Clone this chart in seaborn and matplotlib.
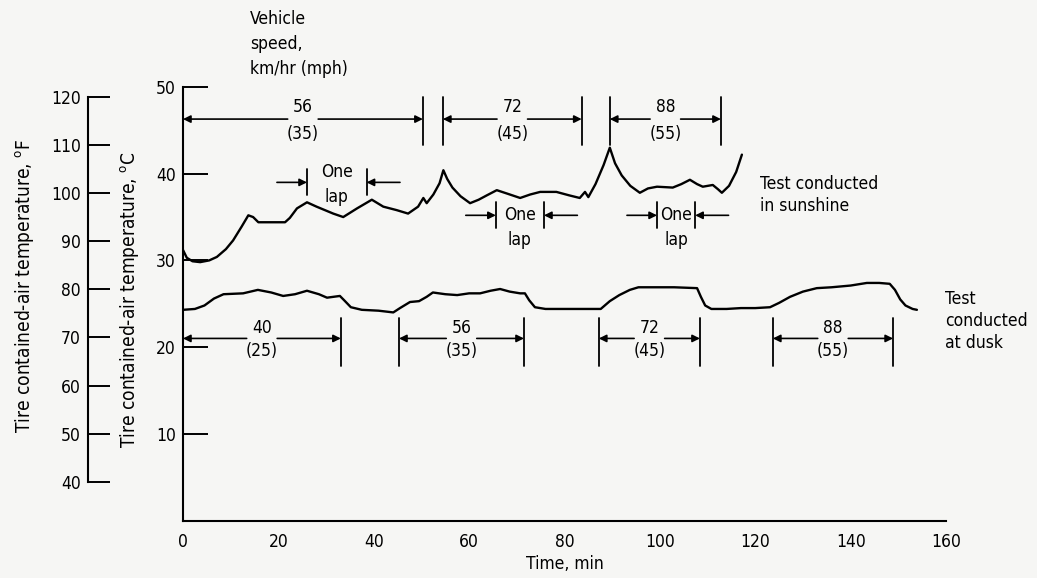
import numpy as np
import pandas as pd
import seaborn as sns
import matplotlib
matplotlib.use("Agg")
import matplotlib.pyplot as plt
from matplotlib import font_manager

# Data (time in min, temperature in deg C)
sun_t = [0, 0.8, 2.0, 3.6, 5.5, 7.1, 9.0, 10.5, 12.3, 13.7, 14.7, 15.8, 18, 21.4,
         22.4, 23.9, 26, 28, 31.5, 33.6, 36.5, 39.6, 42, 44.8, 47.2, 49.3, 50.4,
         51.1, 52.5, 53.8, 54.6, 55.4, 56.5, 58.2, 60.2, 62, 63.7, 65.8, 68, 70.7,
         72.8, 74.9, 78.3, 81, 83.2, 84.3, 85, 86.5, 88.2, 89.5, 90.6, 92, 93.8,
         95.8, 97.5, 99.4, 102.7, 104.5, 106.3, 107.8, 109, 111.1, 112.2, 113,
         114.5, 116, 117.2]
sun_c = [31.2, 30.3, 29.9, 29.8, 30.0, 30.4, 31.3, 32.3, 33.9, 35.2, 35.0, 34.4,
         34.4, 34.4, 34.9, 36.0, 36.7, 36.2, 35.4, 35.0, 36.0, 37.0, 36.2, 35.8,
         35.4, 36.2, 37.2, 36.6, 37.6, 38.9, 40.4, 39.4, 38.4, 37.4, 36.6, 37.0,
         37.5, 38.1, 37.7, 37.2, 37.6, 37.9, 37.9, 37.5, 37.2, 37.9, 37.3, 38.8,
         41.0, 43.0, 41.2, 39.8, 38.6, 37.8, 38.3, 38.5, 38.4, 38.8, 39.3, 38.8,
         38.5, 38.7, 38.2, 37.8, 38.6, 40.2, 42.2]

dusk_t = [0, 2.5, 4.5, 6.5, 8.5, 12.6, 15.7, 18.5, 21, 23.5, 26, 28.5, 30.2, 32.9,
          33.8, 35.2, 37.5, 41, 44.1, 45.5, 47.6, 49.5, 51.1, 52.4, 55, 57.5,
          60, 62.3, 64.5, 66.5, 68.5, 70.7, 71.7, 72.6, 73.8, 76, 80, 84, 87.6,
          89.5, 91.5, 93.7, 95.5, 97.9, 103, 107.8, 108.6, 109.5, 110.8, 114,
          117, 120, 123.1, 125, 127.3, 130, 132.9, 136, 140, 143.4, 146, 148.2,
          149.3, 150.4, 151.5, 153, 153.9]
dusk_c = [24.3, 24.4, 24.8, 25.6, 26.1, 26.2, 26.6, 26.3, 25.9, 26.1, 26.5, 26.1,
          25.7, 25.9, 25.4, 24.6, 24.3, 24.2, 24.0, 24.5, 25.2, 25.3, 25.8, 26.3,
          26.1, 26.0, 26.2, 26.2, 26.5, 26.7, 26.4, 26.2, 26.2, 25.4, 24.6, 24.4,
          24.4, 24.4, 24.4, 25.3, 26.0, 26.6, 26.9, 26.9, 26.9, 26.8, 25.8, 24.8,
          24.4, 24.4, 24.5, 24.5, 24.6, 25.1, 25.8, 26.4, 26.8, 26.9, 27.1, 27.4,
          27.4, 27.3, 26.6, 25.5, 24.8, 24.4, 24.3]

# vehicle speed segments
sun_kmh = ["56", "72", "88"]
sun_mph = ["(35)", "(45)", "(55)"]
sun_start = [0, 54.5, 89.5]
sun_end = [50.3, 83.6, 112.8]

dusk_kmh = ["40", "56", "72", "88"]
dusk_mph = ["(25)", "(35)", "(45)", "(55)"]
dusk_start = [0, 45.3, 87.2, 123.7]
dusk_end = [33.1, 71.5, 108.4, 148.9]

lap_start = [26, 65.6, 99.4]
lap_end = [38.5, 75.7, 107.4]
lap_level = [39.0, 35.2, 35.2]

x_ticks = [0, 20, 40, 60, 80, 100, 120, 140, 160]
c_ticks = [10, 20, 30, 40, 50]
f_ticks = [40, 50, 60, 70, 80, 90, 100, 110, 120]

sns.set_style("white")
# a narrow face if one is around, otherwise a condensed DejaVu
names = {f.name for f in font_manager.fontManager.ttflist}
fam = "Liberation Sans Narrow" if "Liberation Sans Narrow" in names else "DejaVu Sans"
plt.rcParams["font.family"] = [fam, "DejaVu Sans"]
plt.rcParams["font.stretch"] = "condensed"
plt.rcParams["mathtext.fontset"] = "custom"
plt.rcParams["mathtext.rm"] = fam
plt.rcParams["text.color"] = "black"
plt.rcParams["axes.labelcolor"] = "black"
plt.rcParams["xtick.color"] = "black"
plt.rcParams["ytick.color"] = "black"

bg = "#f6f6f4"
fs = 12.5
fig = plt.figure(figsize=(10.37, 5.78), dpi=100, facecolor=bg)
ax = fig.add_axes([183 / 1037, 57.5 / 578, 763 / 1037, 433.5 / 578])
ax.set_facecolor(bg)

sun = pd.DataFrame({"t": sun_t, "c": sun_c})
dusk = pd.DataFrame({"t": dusk_t, "c": dusk_c})
sns.lineplot(data=sun, x="t", y="c", ax=ax, color="black", lw=1.7)
sns.lineplot(data=dusk, x="t", y="c", ax=ax, color="black", lw=1.7)

ax.set_xlim(0, 160)
ax.set_ylim(0, 50)
ax.set_xticks(x_ticks)
ax.set_yticks(c_ticks)
ax.set_xlabel("Time, min", fontsize=fs, labelpad=3)
ax.set_ylabel("")
for s in ["top", "right"]:
    ax.spines[s].set_visible(False)
for s in ["left", "bottom"]:
    ax.spines[s].set_linewidth(1.5)
    ax.spines[s].set_color("black")
ax.tick_params(axis="both", direction="in", length=18, width=1.4, labelsize=fs,
               color="black")
ax.tick_params(axis="x", pad=9)
ax.tick_params(axis="y", pad=5)

# Fahrenheit axis
ax2 = ax.twinx()
ax2.set_ylim(0 * 9 / 5 + 32, 50 * 9 / 5 + 32)
ax2.yaxis.set_ticks_position("left")
ax2.yaxis.set_label_position("left")
ax2.spines["left"].set_position(("axes", -95 / 763))
ax2.spines["left"].set_visible(True)
ax2.spines["left"].set_bounds(40, 120)
ax2.spines["left"].set_linewidth(1.5)
ax2.spines["left"].set_color("black")
for s in ["top", "right", "bottom"]:
    ax2.spines[s].set_visible(False)
ax2.set_yticks(f_ticks)
ax2.tick_params(axis="y", direction="in", length=16, width=1.4, labelsize=fs, pad=5)

fig.text(25 / 1037, 1 - 286 / 578, r"Tire contained-air temperature, $^{\rm o}$F",
         rotation=90, ha="center", va="center", fontsize=13.7)
fig.text(130 / 1037, 1 - 300 / 578, r"Tire contained-air temperature, $^{\rm o}$C",
         rotation=90, ha="center", va="center", fontsize=13.7)
fig.text(250 / 1037, 1 - 10 / 578, "Vehicle\nspeed,\nkm/hr (mph)", ha="left",
         va="top", fontsize=fs, linespacing=1.5)

arrow = dict(arrowstyle="-|>", lw=1.2, color="black", mutation_scale=11,
             shrinkA=0, shrinkB=0)


def speed_marks(starts, ends, kmh, mph, level, top, bot, dy_top, dy_bot):
    for a, b, k, m in zip(starts, ends, kmh, mph):
        mid = (a + b) / 2
        gap = 3.2
        ax.annotate("", xy=(a, level), xytext=(mid - gap, level), arrowprops=arrow)
        ax.annotate("", xy=(b, level), xytext=(mid + gap, level), arrowprops=arrow)
        for x in (a, b):
            if x > 0:
                ax.plot([x, x], [bot, top], color="black", lw=1.3)
        ax.text(mid, level + dy_top, k, ha="center", va="center", fontsize=fs)
        ax.text(mid, level + dy_bot, m, ha="center", va="center", fontsize=fs)


speed_marks(sun_start, sun_end, sun_kmh, sun_mph, 46.3, 48.8, 43.3, 1.4, -1.7)
speed_marks(dusk_start, dusk_end, dusk_kmh, dusk_mph, 21.0, 23.4, 17.8, 1.2, -1.4)

one_dy = [1.2, 0, 0]
lap_dy = [-1.7, -2.9, -2.9]
for a, b, lv, d1, d2 in zip(lap_start, lap_end, lap_level, one_dy, lap_dy):
    ax.annotate("", xy=(a, lv), xytext=(a - 6.3, lv), arrowprops=arrow)
    ax.annotate("", xy=(b, lv), xytext=(b + 7.0, lv), arrowprops=arrow)
    ax.plot([a, a], [lv - 1.5, lv + 1.5], color="black", lw=1.3)
    ax.plot([b, b], [lv - 1.5, lv + 1.5], color="black", lw=1.3)
    ax.text((a + b) / 2, lv + d1, "One", ha="center", va="center", fontsize=fs)
    ax.text((a + b) / 2, lv + d2, "lap", ha="center", va="center", fontsize=fs)

ax.text(121, 37.5, "Test conducted\nin sunshine", ha="left", va="center",
        fontsize=fs, linespacing=1.3)
ax.text(159.8, 23.0, "Test\nconducted\nat dusk", ha="left", va="center",
        fontsize=fs, linespacing=1.3)

fig.savefig("out.png", dpi=100, facecolor=bg)
